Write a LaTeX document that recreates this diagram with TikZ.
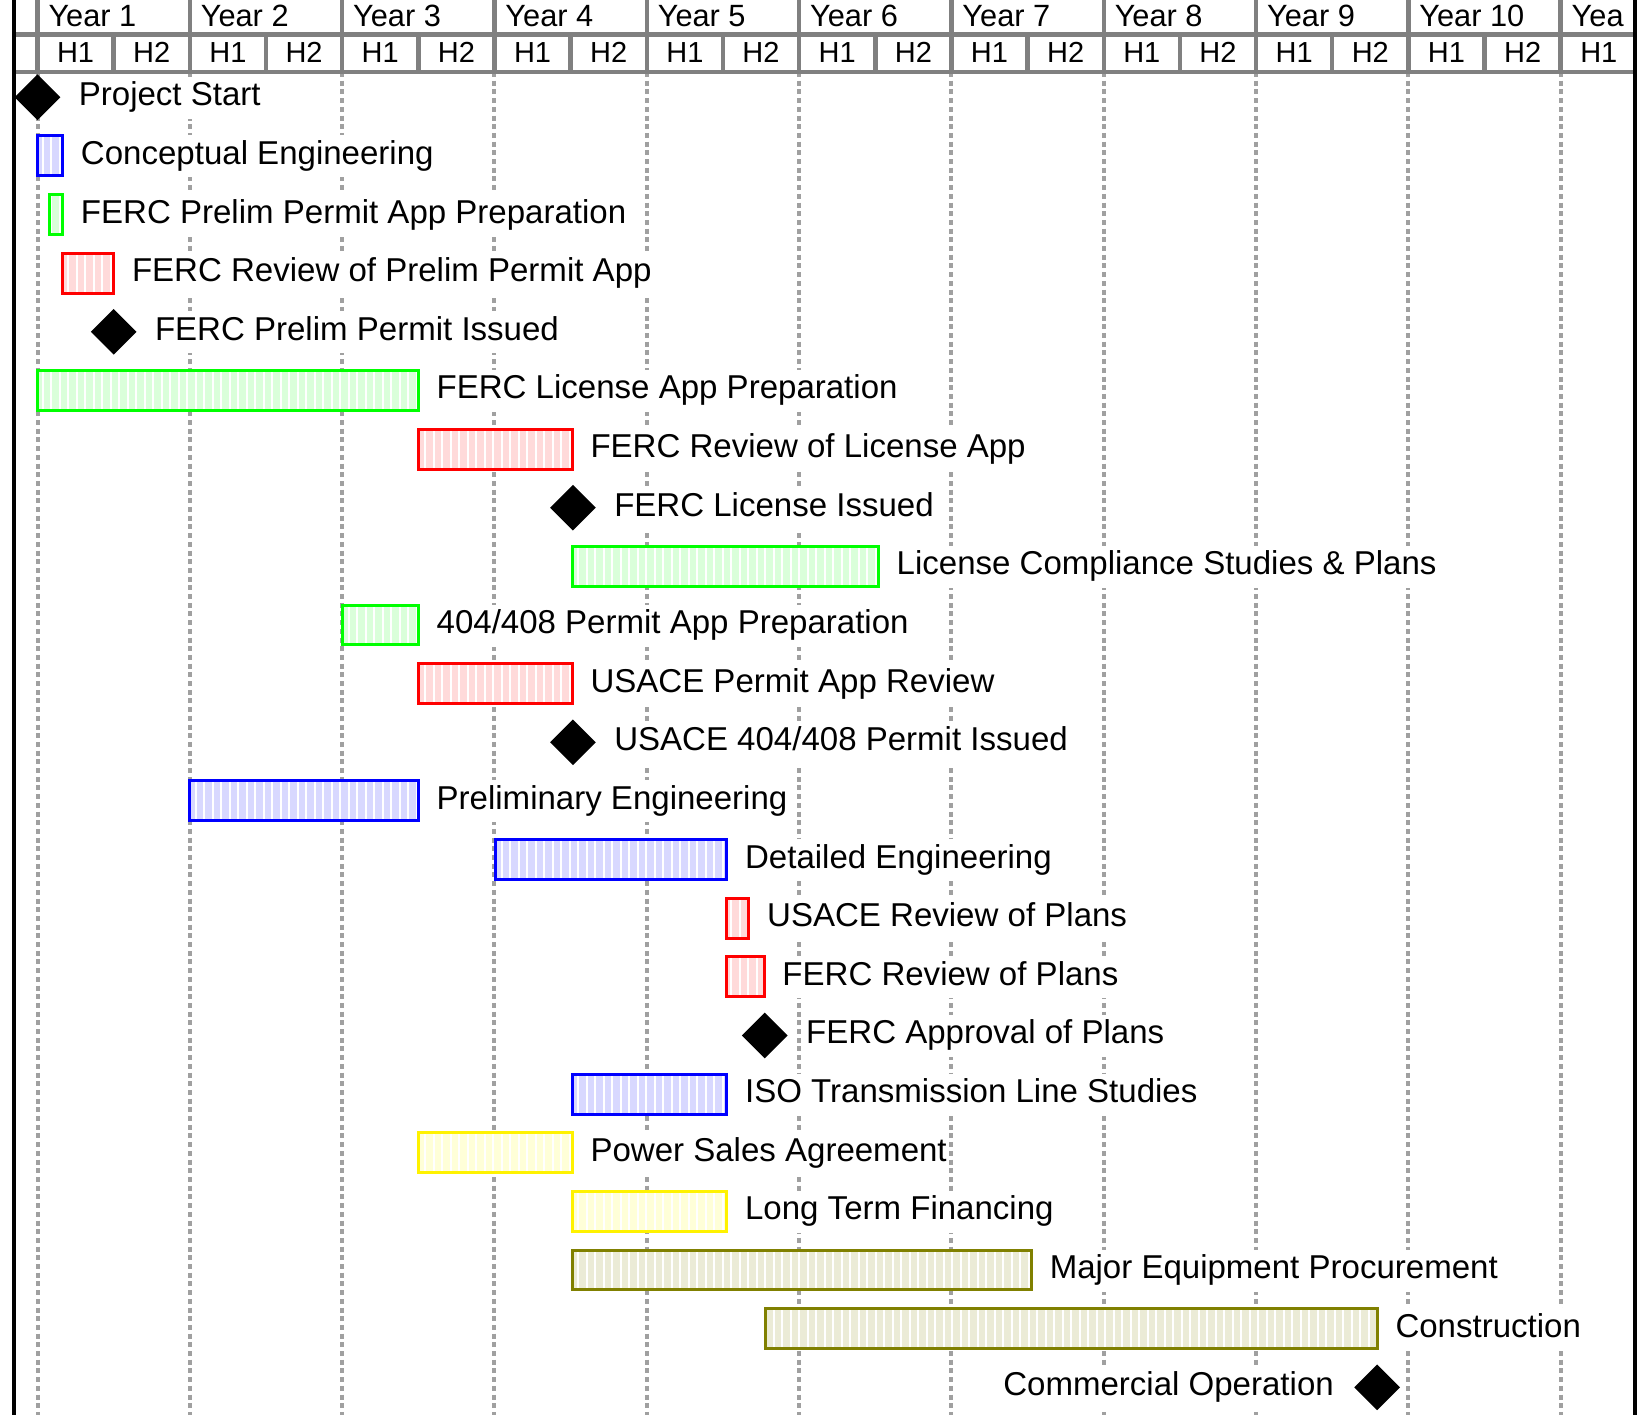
\documentclass[tikz,border=0pt]{standalone}
\usepackage{fontspec}
\setmainfont{Liberation Sans}
\usetikzlibrary{shapes.geometric,patterns.meta}

\definecolor{gridgray}{HTML}{A0A0A0}
\definecolor{hdrgray}{HTML}{808080}
\definecolor{bluefill}{HTML}{D8D8FF}
\definecolor{greenfill}{HTML}{DAFFDA}
\definecolor{redfill}{HTML}{FFDADA}
\definecolor{yellowfill}{HTML}{FFFFD8}
\definecolor{olivefill}{HTML}{EBEBD6}
\definecolor{oliveline}{HTML}{808000}

\begin{document}
\begin{tikzpicture}[x=1.5232cm, y=-1.1728cm,
  stripes/.style={postaction={pattern={Lines[angle=90,distance=0.17cm,line width=0.04cm]}, pattern color=white, fill opacity=0.45}},
  bluebar/.style={fill=bluefill, stripes, postaction={draw=blue, line width=0.06cm}},
  greenbar/.style={fill=greenfill, stripes, postaction={draw=green, line width=0.06cm}},
  redbar/.style={fill=redfill, stripes, postaction={draw=red, line width=0.06cm}},
  yellowbar/.style={fill=yellowfill, stripes, postaction={draw=yellow, line width=0.06cm}},
  olivebar/.style={fill=olivefill, stripes, postaction={draw=oliveline, line width=0.06cm}},
  milestone/.style={diamond, fill=black, inner sep=0, minimum width=0.92cm, minimum height=0.92cm},
  task/.style={anchor=base west, fill=white, inner xsep=0.04cm, inner ysep=0, text height=0.58cm, text depth=0.26cm, font=\fontsize{18.8}{22}\selectfont, xshift=0.32cm},
  event/.style={task, xshift=0.46cm},
  yr/.style={anchor=base west, inner sep=0, font=\fontsize{17.5}{20}\selectfont},
  half/.style={anchor=base, inner sep=0, font=\fontsize{16.5}{19}\selectfont},
  hdrline/.style={hdrgray, line width=0.09cm},
  gridline/.style={gridgray, line width=0.08cm, dash pattern=on 0.1cm off 0.074cm},
  border/.style={black, line width=0.08cm}]

\useasboundingbox (-0.4924,-0.658) rectangle (21.028,23.472);

\draw[gridline] (0,0.57) -- (0,23.472) (2,0.57) -- (2,23.472) (4,0.57) -- (4,23.472)
  (6,0.57) -- (6,23.472) (8,0.57) -- (8,23.472) (10,0.57) -- (10,23.472) (12,0.57) -- (12,23.472)
  (14,0.57) -- (14,23.472) (16,0.57) -- (16,23.472) (18,0.57) -- (18,23.472) (20,0.57) -- (20,23.472);

\draw[hdrline] (-0.3086,-0.07) -- (20.969,-0.07) (-0.3086,0.57) -- (20.969,0.57);
\draw[hdrline] (0,-0.658) -- (0,0.57) (2,-0.658) -- (2,0.57) (4,-0.658) -- (4,0.57)
  (6,-0.658) -- (6,0.57) (8,-0.658) -- (8,0.57) (10,-0.658) -- (10,0.57) (12,-0.658) -- (12,0.57)
  (14,-0.658) -- (14,0.57) (16,-0.658) -- (16,0.57) (18,-0.658) -- (18,0.57) (20,-0.658) -- (20,0.57);
\draw[hdrline] (1,-0.07) -- (1,0.57) (3,-0.07) -- (3,0.57) (5,-0.07) -- (5,0.57) (7,-0.07) -- (7,0.57)
  (9,-0.07) -- (9,0.57) (11,-0.07) -- (11,0.57) (13,-0.07) -- (13,0.57) (15,-0.07) -- (15,0.57)
  (17,-0.07) -- (17,0.57) (19,-0.07) -- (19,0.57);

\node[yr] (y1) at (0.14,-0.2) {Year 1};
\node[yr] (y2) at (2.14,-0.2) {Year 2};
\node[yr] (y3) at (4.14,-0.2) {Year 3};
\node[yr] (y4) at (6.14,-0.2) {Year 4};
\node[yr] (y5) at (8.14,-0.2) {Year 5};
\node[yr] (y6) at (10.14,-0.2) {Year 6};
\node[yr] (y7) at (12.14,-0.2) {Year 7};
\node[yr] (y8) at (14.14,-0.2) {Year 8};
\node[yr] (y9) at (16.14,-0.2) {Year 9};
\node[yr] (y10) at (18.14,-0.2) {Year 10};
\node[yr] (y11) at (20.14,-0.2) {Yea};

\node[half] (h1) at (0.5,0.41) {H1};
\node[half] (h2) at (1.5,0.41) {H2};
\node[half] (h3) at (2.5,0.41) {H1};
\node[half] (h4) at (3.5,0.41) {H2};
\node[half] (h5) at (4.5,0.41) {H1};
\node[half] (h6) at (5.5,0.41) {H2};
\node[half] (h7) at (6.5,0.41) {H1};
\node[half] (h8) at (7.5,0.41) {H2};
\node[half] (h9) at (8.5,0.41) {H1};
\node[half] (h10) at (9.5,0.41) {H2};
\node[half] (h11) at (10.5,0.41) {H1};
\node[half] (h12) at (11.5,0.41) {H2};
\node[half] (h13) at (12.5,0.41) {H1};
\node[half] (h14) at (13.5,0.41) {H2};
\node[half] (h15) at (14.5,0.41) {H1};
\node[half] (h16) at (15.5,0.41) {H2};
\node[half] (h17) at (16.5,0.41) {H1};
\node[half] (h18) at (17.5,0.41) {H2};
\node[half] (h19) at (18.5,0.41) {H1};
\node[half] (h20) at (19.5,0.41) {H2};
\node[half] (h21) at (20.5,0.41) {H1};

\draw[border] (-0.3086,-0.658) -- (-0.3086,23.472);
\draw[border] (20.969,-0.658) -- (20.969,23.472);


\node[milestone] (start) at (0,1) {};
\node[event] (starttxt) at (0,1.145) {Project Start};

\fill[bluebar] (0,1.66) rectangle (0.33,2.34);
\node[task] (concept) at (0.33,2.145) {Conceptual Engineering};

\fill[greenbar] (0.16,2.66) rectangle (0.33,3.34);
\node[task] (prelimprep) at (0.33,3.145) {FERC Prelim Permit App Preparation};

\fill[redbar] (0.33,3.66) rectangle (1,4.34);
\node[task] (prelimrev) at (1,4.145) {FERC Review of Prelim Permit App};

\node[milestone] (prelimiss) at (1,5) {};
\node[event] (prelimisstxt) at (1,5.145) {FERC Prelim Permit Issued};

\fill[greenbar] (0,5.66) rectangle (5,6.34);
\node[task] (licprep) at (5,6.145) {FERC License App Preparation};

\fill[redbar] (5,6.66) rectangle (7.02,7.34);
\node[task] (licrev) at (7.02,7.145) {FERC Review of License App};

\node[milestone] (liciss) at (7.03,8) {};
\node[event] (licisstxt) at (7.03,8.145) {FERC License Issued};

\fill[greenbar] (7.02,8.66) rectangle (11.04,9.34);
\node[task] (compliance) at (11.04,9.145) {License Compliance Studies \& Plans};

\fill[greenbar] (4,9.66) rectangle (5,10.34);
\node[task] (permitprep) at (5,10.145) {404/408 Permit App Preparation};

\fill[redbar] (5,10.66) rectangle (7.02,11.34);
\node[task] (permitrev) at (7.02,11.145) {USACE Permit App Review};

\node[milestone] (permitiss) at (7.03,12) {};
\node[event] (permitisstxt) at (7.03,12.145) {USACE 404/408 Permit Issued};

\fill[bluebar] (2,12.66) rectangle (5,13.34);
\node[task] (prelimeng) at (5,13.145) {Preliminary Engineering};

\fill[bluebar] (6.02,13.66) rectangle (9.05,14.34);
\node[task] (detailed) at (9.05,14.145) {Detailed Engineering};

\fill[redbar] (9.05,14.66) rectangle (9.34,15.34);
\node[task] (usaceplans) at (9.34,15.145) {USACE Review of Plans};

\fill[redbar] (9.05,15.66) rectangle (9.54,16.34);
\node[task] (fercplans) at (9.54,16.145) {FERC Review of Plans};

\node[milestone] (approval) at (9.55,17) {};
\node[event] (approvaltxt) at (9.55,17.145) {FERC Approval of Plans};

\fill[bluebar] (7.02,17.66) rectangle (9.05,18.34);
\node[task] (iso) at (9.05,18.145) {ISO Transmission Line Studies};

\fill[yellowbar] (5,18.66) rectangle (7.02,19.34);
\node[task] (psa) at (7.02,19.145) {Power Sales Agreement};

\fill[yellowbar] (7.02,19.66) rectangle (9.05,20.34);
\node[task] (financing) at (9.05,20.145) {Long Term Financing};

\fill[olivebar] (7.02,20.66) rectangle (13.05,21.34);
\node[task] (procure) at (13.05,21.145) {Major Equipment Procurement};

\fill[olivebar] (9.56,21.66) rectangle (17.59,22.34);
\node[task] (construct) at (17.59,22.145) {Construction};

\node[milestone] (cod) at (17.59,23) {};
\node[task, anchor=base east, xshift=-1.14cm] (codtxt) at (17.59,23.145) {Commercial Operation};

\end{tikzpicture}
\end{document}
